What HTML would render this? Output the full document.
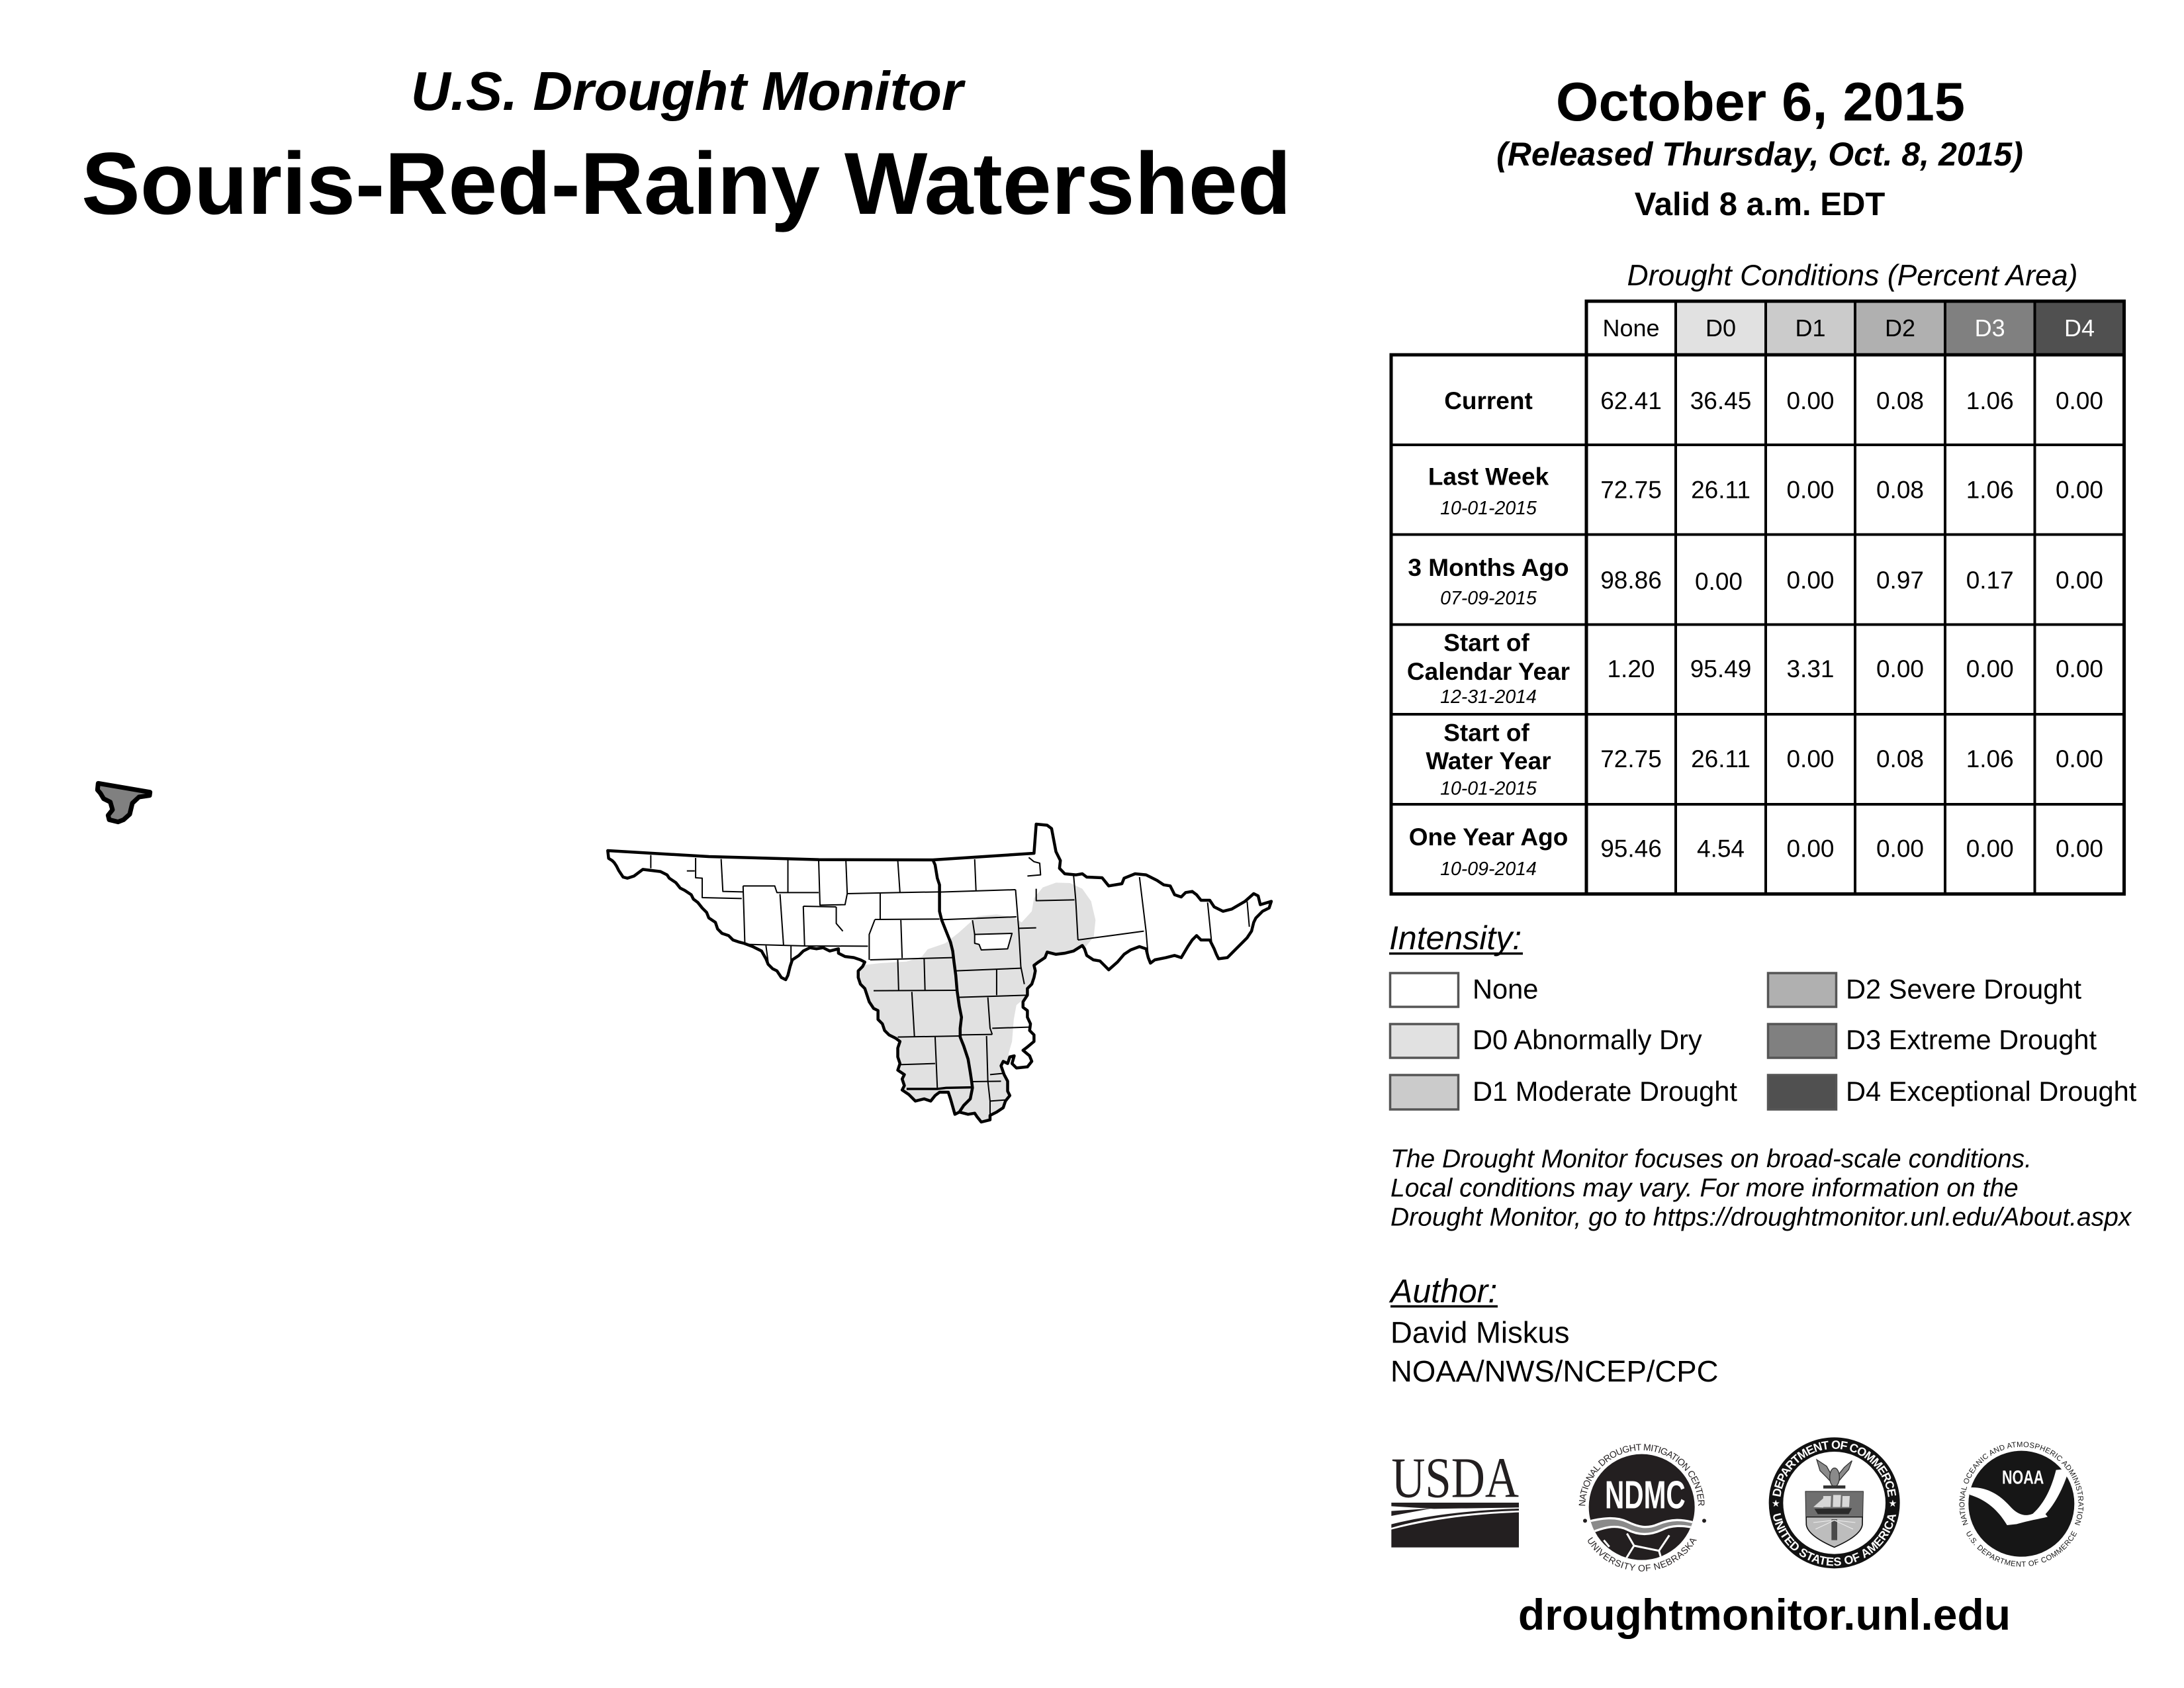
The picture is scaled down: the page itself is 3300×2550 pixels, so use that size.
<!DOCTYPE html>
<html>
<head>
<meta charset="utf-8">
<style>
html,body{margin:0;padding:0;background:#fff;}
body{width:3300px;height:2550px;overflow:hidden;}
svg{display:block;}
text{font-family:"Liberation Sans",Arial,sans-serif;}
</style>
</head>
<body>
<svg width="3300" height="2550" viewBox="0 0 3300 2550" xmlns="http://www.w3.org/2000/svg">
<rect x="0" y="0" width="3300" height="2550" fill="#fff"/>

<!-- Titles -->
<text x="1038" y="166" font-size="83" font-weight="bold" font-style="italic" text-anchor="middle">U.S. Drought Monitor</text>
<text x="1037" y="323" font-size="133" font-weight="bold" text-anchor="middle">Souris-Red-Rainy Watershed</text>
<text x="2660" y="182" font-size="83" font-weight="bold" text-anchor="middle">October 6, 2015</text>
<text x="2659" y="250" font-size="50" font-weight="bold" font-style="italic" text-anchor="middle">(Released Thursday, Oct. 8, 2015)</text>
<text x="2659" y="325" font-size="49" font-weight="bold" text-anchor="middle">Valid 8 a.m. EDT</text>
<text x="2799" y="431" font-size="44.5" font-style="italic" text-anchor="middle">Drought Conditions (Percent Area)</text>

<!-- Table header backgrounds -->
<rect x="2397" y="455" width="135" height="81" fill="#ffffff"/>
<rect x="2532" y="455" width="136" height="81" fill="#e1e1e1"/>
<rect x="2668" y="455" width="135" height="81" fill="#cbcbcb"/>
<rect x="2803" y="455" width="136" height="81" fill="#b0b0b0"/>
<rect x="2939" y="455" width="135.5" height="81" fill="#808080"/>
<rect x="3074.5" y="455" width="135" height="81" fill="#505050"/>

<!-- Table lines -->
<g stroke="#000" fill="none">
<rect x="2397" y="455" width="812.5" height="81" stroke-width="5"/>
<rect x="2102" y="536" width="1107.5" height="814.5" stroke-width="5"/>
<line x1="2397" y1="455" x2="2397" y2="1350" stroke-width="5"/>
<line x1="2532" y1="455" x2="2532" y2="1350" stroke-width="4"/>
<line x1="2668" y1="455" x2="2668" y2="1350" stroke-width="4"/>
<line x1="2803" y1="455" x2="2803" y2="1350" stroke-width="4"/>
<line x1="2939" y1="455" x2="2939" y2="1350" stroke-width="4"/>
<line x1="3074.5" y1="455" x2="3074.5" y2="1350" stroke-width="4"/>
<line x1="2102" y1="672" x2="3209.5" y2="672" stroke-width="4"/>
<line x1="2102" y1="807.5" x2="3209.5" y2="807.5" stroke-width="4"/>
<line x1="2102" y1="943.5" x2="3209.5" y2="943.5" stroke-width="4"/>
<line x1="2102" y1="1079" x2="3209.5" y2="1079" stroke-width="4"/>
<line x1="2102" y1="1215" x2="3209.5" y2="1215" stroke-width="4"/>
</g>

<!-- Header text -->
<g font-size="36" text-anchor="middle">
<text x="2464.5" y="508">None</text>
<text x="2600" y="508">D0</text>
<text x="2735.5" y="508">D1</text>
<text x="2871" y="508">D2</text>
<text x="3006.7" y="508" fill="#fff">D3</text>
<text x="3142" y="508" fill="#fff">D4</text>
</g>

<!-- Row labels -->
<g font-size="37" font-weight="bold" text-anchor="middle">
<text x="2249" y="618">Current</text>
<text x="2249" y="732.5">Last Week</text>
<text x="2249" y="870">3 Months Ago</text>
<text x="2246" y="983.5">Start of</text>
<text x="2249" y="1027">Calendar Year</text>
<text x="2246" y="1119.5">Start of</text>
<text x="2249" y="1162">Water Year</text>
<text x="2249" y="1277">One Year Ago</text>
</g>
<g font-size="28.5" font-style="italic" text-anchor="middle">
<text x="2249" y="777">10-01-2015</text>
<text x="2249" y="913">07-09-2015</text>
<text x="2249" y="1062">12-31-2014</text>
<text x="2249" y="1200.5">10-01-2015</text>
<text x="2249" y="1322">10-09-2014</text>
</g>

<!-- Numbers -->
<g font-size="37" text-anchor="middle">
<text x="2464.5" y="618">62.41</text><text x="2600" y="618">36.45</text><text x="2735.5" y="618">0.00</text><text x="2871" y="618">0.08</text><text x="3006.7" y="618">1.06</text><text x="3142" y="618">0.00</text>
<text x="2464.5" y="752.5">72.75</text><text x="2600" y="752.5">26.11</text><text x="2735.5" y="752.5">0.00</text><text x="2871" y="752.5">0.08</text><text x="3006.7" y="752.5">1.06</text><text x="3142" y="752.5">0.00</text>
<text x="2464.5" y="889">98.86</text><text x="2597" y="891">0.00</text><text x="2735.5" y="889">0.00</text><text x="2871" y="889">0.97</text><text x="3006.7" y="889">0.17</text><text x="3142" y="889">0.00</text>
<text x="2464.5" y="1023">1.20</text><text x="2600" y="1023">95.49</text><text x="2735.5" y="1023">3.31</text><text x="2871" y="1023">0.00</text><text x="3006.7" y="1023">0.00</text><text x="3142" y="1023">0.00</text>
<text x="2464.5" y="1159">72.75</text><text x="2600" y="1159">26.11</text><text x="2735.5" y="1159">0.00</text><text x="2871" y="1159">0.08</text><text x="3006.7" y="1159">1.06</text><text x="3142" y="1159">0.00</text>
<text x="2464.5" y="1294.5">95.46</text><text x="2600" y="1294.5">4.54</text><text x="2735.5" y="1294.5">0.00</text><text x="2871" y="1294.5">0.00</text><text x="3006.7" y="1294.5">0.00</text><text x="3142" y="1294.5">0.00</text>
</g>

<!-- Intensity legend -->
<text x="2099" y="1434" font-size="50" font-style="italic">Intensity:</text>
<line x1="2099" y1="1440.5" x2="2301" y2="1440.5" stroke="#000" stroke-width="3.5"/>
<g stroke="#555" stroke-width="3.5">
<rect x="2100.5" y="1470" width="103" height="51" fill="#ffffff"/>
<rect x="2100.5" y="1547" width="103" height="51" fill="#e1e1e1"/>
<rect x="2100.5" y="1624" width="103" height="52" fill="#cbcbcb"/>
<rect x="2671.5" y="1470" width="103" height="51" fill="#b0b0b0"/>
<rect x="2671.5" y="1547" width="103" height="51" fill="#808080"/>
<rect x="2671.5" y="1624" width="103" height="52" fill="#505050"/>
</g>
<g font-size="41.6">
<text x="2225" y="1508.5">None</text>
<text x="2225" y="1585">D0 Abnormally Dry</text>
<text x="2225" y="1663">D1 Moderate Drought</text>
<text x="2789" y="1508.5">D2 Severe Drought</text>
<text x="2789" y="1585">D3 Extreme Drought</text>
<text x="2789" y="1663">D4 Exceptional Drought</text>
</g>

<!-- Notes -->
<g font-size="39" font-style="italic">
<text x="2101" y="1763.5">The Drought Monitor focuses on broad-scale conditions.</text>
<text x="2101" y="1807.5">Local conditions may vary. For more information on the</text>
<text x="2101" y="1851.5">Drought Monitor, go to https://droughtmonitor.unl.edu/About.aspx</text>
</g>

<!-- Author -->
<text x="2101" y="1967.5" font-size="50" font-style="italic">Author:</text>
<line x1="2101" y1="1973.5" x2="2263" y2="1973.5" stroke="#000" stroke-width="3.5"/>
<text x="2101" y="2028.5" font-size="45.5">David Miskus</text>
<text x="2101" y="2087" font-size="45.5">NOAA/NWS/NCEP/CPC</text>

<!-- URL -->
<text x="2666" y="2462" font-size="66" font-weight="bold" text-anchor="middle">droughtmonitor.unl.edu</text>

<!-- Logos group 1: USDA + NDMC -->
<g transform="translate(2095,2160) scale(0.33333)">
  <text x="22" y="305" font-size="262" textLength="578" lengthAdjust="spacingAndGlyphs" fill="#231f20" style="font-family:'Liberation Serif','Times New Roman',serif">USDA</text>
  <path d="M22,330 H600 V352 C450,354 330,356 215,358 L22,346 Z" fill="#231f20"/>
  <path d="M22,368 L205,356 L22,390 Z" fill="#231f20"/>
  <path d="M22,428 C180,388 380,364 600,357 V366 C380,373 180,398 22,444 Z" fill="#231f20"/>
  <path d="M22,452 C200,405 400,381 600,374 V533 H22 Z" fill="#231f20"/>

  <defs>
    <path id="ndmcTop" d="M905,394 A256,256 0 1,1 1409,394"/>
    <path id="ndmcBot" d="M884,449 A290,290 0 0,0 1430,449"/>
    <clipPath id="ndmcClip"><circle cx="1157" cy="350" r="240"/></clipPath>
  </defs>
  <circle cx="1157" cy="350" r="240" fill="#231f20"/>
  <g clip-path="url(#ndmcClip)">
    <path d="M905,418 C980,398 1040,393 1090,416 C1140,440 1180,450 1230,428 C1290,403 1340,403 1410,425 L1410,448 C1340,430 1290,432 1245,455 C1190,480 1140,478 1090,452 C1040,428 985,440 905,475 Z" fill="#8a8a8a" stroke="#fff" stroke-width="10"/>
    <g stroke="#fff" stroke-width="9" fill="none">
      <polyline points="1090,470 1122,525 1085,585"/>
      <polyline points="1122,525 1235,548 1282,478"/>
      <polyline points="1235,548 1250,600"/>
      <polyline points="985,500 1010,530"/>
    </g>
  </g>
  <text x="990" y="355" font-size="178" font-weight="bold" fill="#fff" textLength="365" lengthAdjust="spacingAndGlyphs">NDMC</text>
  <text font-size="42" fill="#231f20"><textPath href="#ndmcTop" startOffset="50%" text-anchor="middle" textLength="800" lengthAdjust="spacing">NATIONAL DROUGHT MITIGATION CENTER</textPath></text>
  <text font-size="42" fill="#231f20"><textPath href="#ndmcBot" startOffset="50%" text-anchor="middle" textLength="600" lengthAdjust="spacing">UNIVERSITY OF NEBRASKA</textPath></text>
  <circle cx="900" cy="412" r="9" fill="#231f20"/>
  <circle cx="1440" cy="412" r="9" fill="#231f20"/>
</g>

<!-- Logos group 2: Commerce + NOAA -->
<g transform="translate(2660,2160) scale(0.33333)">
  <defs>
    <path id="docTop" d="M90,331 A245,245 0 0,1 580,331"/>
    <path id="docBot" d="M50,331 A285,285 0 0,0 620,331"/>
    <clipPath id="shieldTop"><rect x="200" y="275" width="270" height="120"/></clipPath>
    <path id="noaaTop" d="M949,444 A258,258 0 1,1 1417,444"/>
    <path id="noaaBot" d="M915,432 A285,285 0 0,0 1451,432"/>
  </defs>
  <circle cx="335" cy="331" r="297" fill="#111"/>
  <circle cx="335" cy="331" r="232" fill="#fff"/>
  <text font-size="54" font-weight="bold" fill="#fff"><textPath href="#docTop" startOffset="50%" text-anchor="middle" textLength="720" lengthAdjust="spacing">DEPARTMENT OF COMMERCE</textPath></text>
  <text font-size="54" font-weight="bold" fill="#fff"><textPath href="#docBot" startOffset="50%" text-anchor="middle" textLength="790" lengthAdjust="spacing">UNITED STATES OF AMERICA</textPath></text>
  <text x="70" y="348" font-size="44" fill="#fff" text-anchor="middle">★</text>
  <text x="600" y="348" font-size="44" fill="#fff" text-anchor="middle">★</text>
  <g fill="#8a8a8a" stroke="#333" stroke-width="4">
    <polygon points="255,135 300,165 322,205 328,245 300,215 270,185"/>
    <polygon points="415,140 380,170 352,205 345,245 372,212 400,180"/>
    <ellipse cx="336" cy="215" rx="22" ry="42"/>
  </g>
  <rect x="285" y="252" width="100" height="14" fill="#333"/>
  <path d="M205,280 L465,280 L462,430 Q455,480 335,532 Q215,480 208,430 Z" fill="#bdbdbd" stroke="#111" stroke-width="5"/>
  <path d="M205,280 L465,280 L462,430 Q455,480 335,532 Q215,480 208,430 Z" fill="#6f6f6f" clip-path="url(#shieldTop)"/>
  <line x1="207" y1="395" x2="463" y2="395" stroke="#111" stroke-width="4"/>
  <g fill="#d8d8d8">
    <polygon points="285,300 320,300 318,350 282,350"/>
    <polygon points="330,295 365,295 362,350 328,350"/>
    <polygon points="372,300 405,300 402,350 370,350"/>
    <polygon points="240,350 285,310 285,352"/>
  </g>
  <polygon points="245,358 415,355 400,382 260,382" fill="#2a2a2a"/>
  <rect x="322" y="405" width="26" height="95" fill="#4a4a4a"/>
  <g stroke="#eee" stroke-width="3">
    <line x1="335" y1="410" x2="240" y2="420"/><line x1="335" y1="410" x2="430" y2="420"/>
    <line x1="335" y1="410" x2="250" y2="450"/><line x1="335" y1="410" x2="420" y2="450"/>
  </g>

  <circle cx="1183" cy="335" r="240" fill="#161616"/>
  <path d="M940,262 C1020,255 1080,290 1130,345 C1165,385 1200,395 1235,380 C1290,330 1320,260 1340,182 L1400,176 C1372,270 1332,340 1292,382 L1302,394 C1262,404 1212,412 1162,427 L1118,432 C1088,382 1040,322 948,294 Z" fill="#fff"/>
  <text x="1095" y="245" font-size="86" font-weight="bold" fill="#fff" textLength="190" lengthAdjust="spacingAndGlyphs">NOAA</text>
  <text font-size="34" fill="#161616"><textPath href="#noaaTop" startOffset="50%" text-anchor="middle" textLength="1000" lengthAdjust="spacing">NATIONAL OCEANIC AND ATMOSPHERIC ADMINISTRATION</textPath></text>
  <text font-size="34" fill="#161616"><textPath href="#noaaBot" startOffset="50%" text-anchor="middle" textLength="620" lengthAdjust="spacing">U.S. DEPARTMENT OF COMMERCE</textPath></text>
</g>

<!-- Small isolated shape at left -->
<g transform="translate(120,1160) scale(0.33333)">
  <polygon points="85,70 320,110 318,125 270,132 240,160 228,210 200,235 175,245 135,235 130,215 150,190 140,155 110,140 95,115 82,100" fill="#808080" stroke="#000" stroke-width="7" vector-effect="non-scaling-stroke" stroke-linejoin="round"/>
</g>

<!-- Main map -->
<g transform="translate(905,1220) scale(0.664,0.33333)">
  <defs>
    <clipPath id="outlineClip">
      <polygon points="20,195 250,222 500,236 760,237 990,207 995,75 1020,80 1030,95 1040,200 1050,240 1048,275 1060,300 1085,305 1100,300 1110,315 1145,318 1160,355 1190,345 1195,320 1220,300 1245,305 1270,330 1285,350 1300,355 1310,395 1325,405 1335,385 1350,380 1360,395 1370,420 1390,420 1400,450 1420,470 1440,460 1470,425 1490,390 1500,400 1505,440 1530,425 1525,455 1510,470 1495,500 1490,520 1485,560 1475,590 1460,620 1450,640 1440,660 1430,680 1410,685 1405,665 1400,640 1390,600 1370,600 1360,580 1350,600 1340,630 1325,680 1310,670 1290,680 1265,690 1255,705 1250,680 1245,640 1230,630 1210,645 1195,665 1180,700 1160,735 1150,715 1140,695 1125,690 1110,670 1105,640 1100,625 1080,650 1060,660 1040,665 1020,655 1015,680 1000,700 990,715 993,740 990,770 985,800 975,820 975,850 965,880 965,905 975,920 975,950 982,980 980,1010 990,1030 990,1060 975,1085 965,1100 980,1125 985,1150 975,1175 950,1180 940,1160 945,1125 935,1130 930,1160 920,1150 915,1170 922,1210 930,1240 930,1285 935,1305 925,1330 920,1360 905,1380 890,1395 890,1415 870,1425 860,1400 855,1385 840,1390 820,1380 810,1390 805,1355 800,1320 795,1290 775,1290 765,1305 755,1330 740,1320 720,1330 705,1300 690,1280 695,1260 690,1230 695,1210 680,1190 685,1160 680,1130 680,1090 685,1060 675,1045 660,1030 650,1010 645,980 635,960 635,920 625,910 615,880 610,850 605,820 595,800 590,770 590,740 600,720 605,700 595,690 580,680 560,675 545,660 545,640 525,650 510,635 495,640 480,635 465,650 455,670 440,690 435,720 430,760 425,780 415,770 405,740 395,730 385,710 380,685 370,650 350,630 330,615 320,610 305,600 295,580 280,570 270,550 265,520 250,500 245,475 235,455 225,430 215,415 210,395 195,375 185,365 175,340 160,320 155,305 140,290 120,285 100,280 90,295 80,310 65,320 55,315 50,300 45,285 40,265 35,250 30,240 22,230"/>
    </clipPath>
  </defs>
  <g clip-path="url(#outlineClip)">
    <polygon points="560,740 595,715 640,705 700,698 735,675 748,642 788,615 818,568 845,520 862,492 905,484 945,498 962,520 985,470 990,410 1010,362 1040,340 1072,342 1100,368 1120,425 1130,510 1126,585 1108,630 1040,680 1000,720 985,800 972,858 950,895 944,960 940,1060 932,1115 938,1165 960,1185 1000,1200 1000,1500 560,1500" fill="#e1e1e1"/>
    <polygon points="855,575 940,570 930,640 870,645 865,620 855,615" fill="#fff"/>
  </g>
  <g fill="none" stroke="#000" stroke-width="2" stroke-linejoin="round">
    <polyline vector-effect="non-scaling-stroke" points="118,215 118,275"/>
    <polyline vector-effect="non-scaling-stroke" points="220,228 220,318 235,320 235,408 325,412"/>
    <polyline vector-effect="non-scaling-stroke" points="200,287 218,287"/>
    <polyline vector-effect="non-scaling-stroke" points="278,233 282,380 328,382"/>
    <polyline vector-effect="non-scaling-stroke" points="328,355 400,355 405,385 500,385"/>
    <polyline vector-effect="non-scaling-stroke" points="328,355 332,615"/>
    <polyline vector-effect="non-scaling-stroke" points="430,238 430,385"/>
    <polyline vector-effect="non-scaling-stroke" points="500,240 503,442 560,440 565,390"/>
    <polyline vector-effect="non-scaling-stroke" points="562,242 565,390 680,385 775,382"/>
    <polyline vector-effect="non-scaling-stroke" points="680,240 685,385"/>
    <polyline vector-effect="non-scaling-stroke" points="855,234 858,375"/>
    <polyline vector-effect="non-scaling-stroke" points="775,383 948,372"/>
    <polyline vector-effect="non-scaling-stroke" points="948,372 955,545 960,720 968,800"/>
    <polyline vector-effect="non-scaling-stroke" points="955,547 995,545"/>
    <polyline vector-effect="non-scaling-stroke" points="978,226 990,245 1003,252 1005,305 975,310"/>
    <polyline vector-effect="non-scaling-stroke" points="995,368 995,422 1082,418"/>
    <polyline vector-effect="non-scaling-stroke" points="1080,305 1085,420 1090,600"/>
    <polyline vector-effect="non-scaling-stroke" points="1090,600 1165,580 1240,560"/>
    <polyline vector-effect="non-scaling-stroke" points="1230,315 1245,560 1250,680"/>
    <polyline vector-effect="non-scaling-stroke" points="1385,430 1395,628"/>
    <polyline vector-effect="non-scaling-stroke" points="1475,425 1480,540"/>
    <polyline vector-effect="non-scaling-stroke" points="412,392 420,622"/>
    <polyline vector-effect="non-scaling-stroke" points="465,447 540,450"/>
    <polyline vector-effect="non-scaling-stroke" points="465,447 468,627"/>
    <polyline vector-effect="non-scaling-stroke" points="540,450 540,525 555,560"/>
    <polyline vector-effect="non-scaling-stroke" points="640,390 640,505"/>
    <polyline vector-effect="non-scaling-stroke" points="628,507 775,505"/>
    <polyline vector-effect="non-scaling-stroke" points="628,507 615,575 615,690"/>
    <polyline vector-effect="non-scaling-stroke" points="687,510 690,682"/>
    <polyline vector-effect="non-scaling-stroke" points="617,690 805,680"/>
    <polyline vector-effect="non-scaling-stroke" points="680,690 682,828"/>
    <polyline vector-effect="non-scaling-stroke" points="740,685 742,828"/>
    <polyline vector-effect="non-scaling-stroke" points="625,830 812,828"/>
    <polyline vector-effect="non-scaling-stroke" points="340,620 470,627 612,628"/>
    <polyline vector-effect="non-scaling-stroke" points="380,625 385,700"/>
    <polyline vector-effect="non-scaling-stroke" points="437,628 437,700"/>
    <polyline vector-effect="non-scaling-stroke" points="778,508 950,495"/>
    <polyline vector-effect="non-scaling-stroke" points="850,510 855,575"/>
    <polygon vector-effect="non-scaling-stroke" points="855,575 940,570 930,640 870,645 865,620 855,615"/>
    <polyline vector-effect="non-scaling-stroke" points="812,740 960,728"/>
    <polyline vector-effect="non-scaling-stroke" points="905,735 905,850"/>
    <polyline vector-effect="non-scaling-stroke" points="818,860 975,850"/>
    <polyline vector-effect="non-scaling-stroke" points="885,860 890,1000 895,1028"/>
    <polyline vector-effect="non-scaling-stroke" points="822,1030 895,1028"/>
    <polyline vector-effect="non-scaling-stroke" points="895,1000 978,995"/>
    <polyline vector-effect="non-scaling-stroke" points="712,835 718,1040"/>
    <polyline vector-effect="non-scaling-stroke" points="680,1040 822,1035"/>
    <polyline vector-effect="non-scaling-stroke" points="765,1040 770,1270"/>
    <polyline vector-effect="non-scaling-stroke" points="882,1035 885,1240 890,1330 890,1395"/>
    <polyline vector-effect="non-scaling-stroke" points="683,1165 765,1160"/>
    <polyline vector-effect="non-scaling-stroke" points="848,1242 915,1240"/>
    <polyline vector-effect="non-scaling-stroke" points="890,1210 918,1205"/>
    <polyline vector-effect="non-scaling-stroke" points="890,1330 925,1325"/>
  </g>
  <polyline points="700,1275 770,1275 790,1270 848,1268" fill="none" stroke="#000" stroke-width="3.5" vector-effect="non-scaling-stroke"/>
  <polyline points="760,237 765,260 770,320 775,350 775,420 775,470 780,510 790,560 800,610 805,650 808,700 812,760 815,830 820,900 825,950 822,1000 822,1040 830,1080 840,1140 845,1200 848,1240 850,1270 845,1320 830,1350 820,1380" fill="none" stroke="#000" stroke-width="4.5" vector-effect="non-scaling-stroke" stroke-linejoin="round"/>
  <polygon fill="none" stroke="#000" stroke-width="4.5" vector-effect="non-scaling-stroke" stroke-linejoin="round" points="20,195 250,222 500,236 760,237 990,207 995,75 1020,80 1030,95 1040,200 1050,240 1048,275 1060,300 1085,305 1100,300 1110,315 1145,318 1160,355 1190,345 1195,320 1220,300 1245,305 1270,330 1285,350 1300,355 1310,395 1325,405 1335,385 1350,380 1360,395 1370,420 1390,420 1400,450 1420,470 1440,460 1470,425 1490,390 1500,400 1505,440 1530,425 1525,455 1510,470 1495,500 1490,520 1485,560 1475,590 1460,620 1450,640 1440,660 1430,680 1410,685 1405,665 1400,640 1390,600 1370,600 1360,580 1350,600 1340,630 1325,680 1310,670 1290,680 1265,690 1255,705 1250,680 1245,640 1230,630 1210,645 1195,665 1180,700 1160,735 1150,715 1140,695 1125,690 1110,670 1105,640 1100,625 1080,650 1060,660 1040,665 1020,655 1015,680 1000,700 990,715 993,740 990,770 985,800 975,820 975,850 965,880 965,905 975,920 975,950 982,980 980,1010 990,1030 990,1060 975,1085 965,1100 980,1125 985,1150 975,1175 950,1180 940,1160 945,1125 935,1130 930,1160 920,1150 915,1170 922,1210 930,1240 930,1285 935,1305 925,1330 920,1360 905,1380 890,1395 890,1415 870,1425 860,1400 855,1385 840,1390 820,1380 810,1390 805,1355 800,1320 795,1290 775,1290 765,1305 755,1330 740,1320 720,1330 705,1300 690,1280 695,1260 690,1230 695,1210 680,1190 685,1160 680,1130 680,1090 685,1060 675,1045 660,1030 650,1010 645,980 635,960 635,920 625,910 615,880 610,850 605,820 595,800 590,770 590,740 600,720 605,700 595,690 580,680 560,675 545,660 545,640 525,650 510,635 495,640 480,635 465,650 455,670 440,690 435,720 430,760 425,780 415,770 405,740 395,730 385,710 380,685 370,650 350,630 330,615 320,610 305,600 295,580 280,570 270,550 265,520 250,500 245,475 235,455 225,430 215,415 210,395 195,375 185,365 175,340 160,320 155,305 140,290 120,285 100,280 90,295 80,310 65,320 55,315 50,300 45,285 40,265 35,250 30,240 22,230"/>
</g>

</svg>
</body>
</html>
